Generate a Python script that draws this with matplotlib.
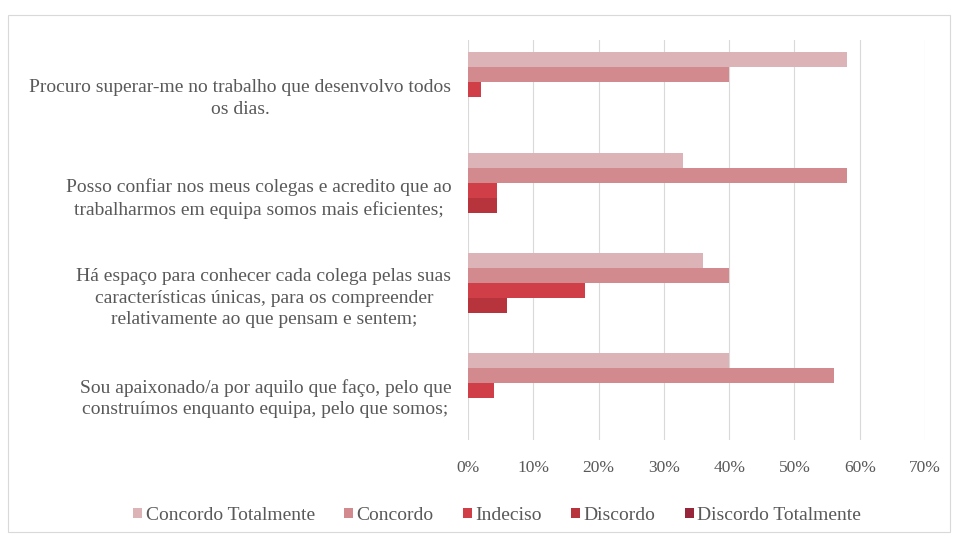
# -*- coding: utf-8 -*-
import numpy as np
import matplotlib.pyplot as plt
from matplotlib.patches import Rectangle
from matplotlib.ticker import PercentFormatter


# ---- data ----
statements = [
    "Procuro superar-me no trabalho que desenvolvo todos\nos dias.",
    "Posso confiar nos meus colegas e acredito que ao\ntrabalharmos em equipa somos mais eficientes;",
    "Há espaço para conhecer cada colega pelas suas\ncaracterísticas únicas, para os compreender\nrelativamente ao que pensam e sentem;",
    "Sou apaixonado/a por aquilo que faço, pelo que\nconstruímos enquanto equipa, pelo que somos;",
]
series_names = ["Concordo Totalmente", "Concordo", "Indeciso",
                "Discordo", "Discordo Totalmente"]

concordo_totalmente = [0.58, 0.33, 0.36, 0.40]
concordo = [0.40, 0.58, 0.40, 0.56]
indeciso = [0.02, 0.045, 0.18, 0.04]
discordo = [0.0, 0.045, 0.06, 0.0]
discordo_totalmente = [0.0, 0.0, 0.0, 0.0]

series_values = [concordo_totalmente, concordo, indeciso,
                 discordo, discordo_totalmente]
series_colors = ["#dcb3b6", "#d28a8f", "#d03e47", "#b8343d", "#98263a"]


# ----------
def main():
    plt.rcParams["font.family"] = ["Liberation Serif", "DejaVu Serif"]

    fig = plt.figure(figsize=(9.56, 5.38), dpi=100)
    ax = fig.add_axes([0.4895, 0.182, 0.4781, 0.7437])

    # outer chart border
    fig.patches.append(Rectangle((8 / 956, 6 / 538), 942 / 956, 517 / 538,
                                 transform=fig.transFigure, fill=False,
                                 edgecolor="#d9d9d9", linewidth=0.8))

    n_groups = len(statements)
    y_pos = np.arange(n_groups)
    bar_h = 0.15

    for i, (name, vals, col) in enumerate(zip(series_names, series_values,
                                              series_colors)):
        offset = (i - 2) * bar_h
        ax.barh(y_pos + offset, vals, height=bar_h, color=col, label=name)

    ax.set_xlim(0, 0.7)
    ax.set_ylim(n_groups - 0.5, -0.5)
    ax.set_xticks(np.arange(0, 0.71, 0.1))
    ax.xaxis.set_major_formatter(PercentFormatter(1.0, decimals=0))
    ax.set_yticks(y_pos + 0.04)
    ax.set_yticklabels(statements, fontsize=14, color="#595959",
                       multialignment="center", linespacing=1.35)

    for lab in ax.get_xticklabels():
        lab.set_fontsize(12.5)
        lab.set_color("#595959")

    ax.tick_params(axis="x", length=0, pad=14)
    ax.tick_params(axis="y", length=0, pad=12)
    for sp in ax.spines.values():
        sp.set_visible(False)
    ax.grid(axis="x", color="#d9d9d9", linewidth=0.8)
    ax.set_axisbelow(True)

    leg = fig.legend(loc="center", bbox_to_anchor=(0.52, 0.042), ncol=5,
                     frameon=False, fontsize=14, handlelength=0.45,
                     handleheight=0.45, handletextpad=0.2,
                     columnspacing=1.5)
    for txt in leg.get_texts():
        txt.set_color("#595959")

    fig.savefig("out.png", dpi=100)
    plt.close()


# ----------
if __name__ == "__main__":
    main()
